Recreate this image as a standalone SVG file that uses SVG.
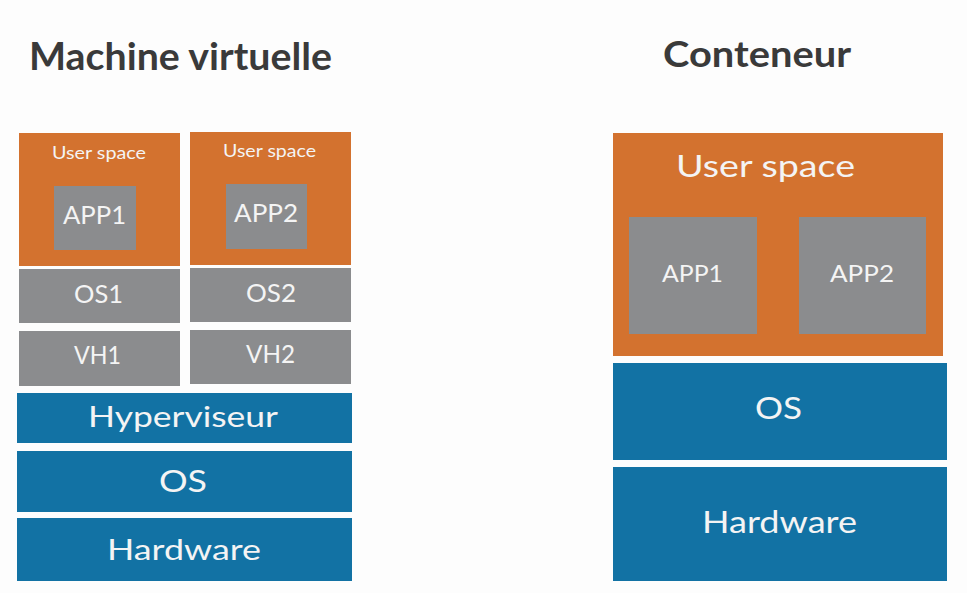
<svg xmlns="http://www.w3.org/2000/svg" width="967" height="593" viewBox="0 0 967 593">
<style>
.bg{fill:#fdfdfd}
.or{fill:#d3722f}
.gr{fill:#8b8c8e}
.bl{fill:#1272a4}
.t{font-family:Lato,"Open Sans","Liberation Sans",sans-serif;fill:#f4f4f4}
.h{font-family:Lato,"Open Sans","Liberation Sans",sans-serif;font-weight:bold;fill:#3a3a3a}
</style>
<rect class="bg" x="0" y="0" width="967" height="593"/>
<text class="h" x="29" y="70" font-size="38" textLength="303" lengthAdjust="spacingAndGlyphs">Machine virtuelle</text>
<text class="h" x="663" y="67" font-size="37" textLength="188" lengthAdjust="spacingAndGlyphs">Conteneur</text>
<g id="vm-userspace1"><rect class="or" x="19" y="133" width="161" height="133"/><text class="t" x="52" y="159" font-size="17" textLength="94" lengthAdjust="spacingAndGlyphs">User space</text></g>
<g id="vm-app1"><rect class="gr" x="54" y="186" width="82" height="64"/><text class="t" x="63" y="224" font-size="25" textLength="63" lengthAdjust="spacingAndGlyphs">APP1</text></g>
<g id="vm-userspace2"><rect class="or" x="190" y="132" width="161" height="133"/><text class="t" x="223" y="157" font-size="17" textLength="93" lengthAdjust="spacingAndGlyphs">User space</text></g>
<g id="vm-app2"><rect class="gr" x="226" y="184" width="81" height="65"/><text class="t" x="234" y="222" font-size="25" textLength="64" lengthAdjust="spacingAndGlyphs">APP2</text></g>
<g id="vm-os1"><rect class="gr" x="19" y="269" width="161" height="54"/><text class="t" x="74" y="303" font-size="25" textLength="49" lengthAdjust="spacingAndGlyphs">OS1</text></g>
<g id="vm-os2"><rect class="gr" x="190" y="268" width="161" height="54"/><text class="t" x="246" y="302" font-size="25" textLength="50" lengthAdjust="spacingAndGlyphs">OS2</text></g>
<g id="vm-vh1"><rect class="gr" x="19" y="331" width="161" height="55"/><text class="t" x="74" y="364" font-size="25" textLength="47" lengthAdjust="spacingAndGlyphs">VH1</text></g>
<g id="vm-vh2"><rect class="gr" x="190" y="330" width="161" height="54"/><text class="t" x="246" y="363" font-size="25" textLength="49" lengthAdjust="spacingAndGlyphs">VH2</text></g>
<g id="vm-hyperviseur"><rect class="bl" x="17" y="393" width="335" height="50"/><text class="t" x="88" y="427" font-size="29" textLength="190" lengthAdjust="spacingAndGlyphs">Hyperviseur</text></g>
<g id="vm-os"><rect class="bl" x="17" y="451" width="335" height="61"/><text class="t" x="159" y="492" font-size="30" textLength="48" lengthAdjust="spacingAndGlyphs">OS</text></g>
<g id="vm-hardware"><rect class="bl" x="17" y="518" width="335" height="63"/><text class="t" x="107" y="560" font-size="29" textLength="154" lengthAdjust="spacingAndGlyphs">Hardware</text></g>
<g id="ct-userspace"><rect class="or" x="613" y="133" width="330" height="223"/><text class="t" x="676" y="177" font-size="31" textLength="179" lengthAdjust="spacingAndGlyphs">User space</text></g>
<g id="ct-app1"><rect class="gr" x="629" y="217" width="128" height="117"/><text class="t" x="662" y="282" font-size="23" textLength="61" lengthAdjust="spacingAndGlyphs">APP1</text></g>
<g id="ct-app2"><rect class="gr" x="799" y="217" width="127" height="117"/><text class="t" x="830" y="282" font-size="23" textLength="64" lengthAdjust="spacingAndGlyphs">APP2</text></g>
<g id="ct-os"><rect class="bl" x="613" y="363" width="334" height="97"/><text class="t" x="755" y="419" font-size="31" textLength="47" lengthAdjust="spacingAndGlyphs">OS</text></g>
<g id="ct-hardware"><rect class="bl" x="613" y="467" width="334" height="114"/><text class="t" x="702" y="533" font-size="31" textLength="155" lengthAdjust="spacingAndGlyphs">Hardware</text></g>
<g id="connectors"></g>
</svg>
